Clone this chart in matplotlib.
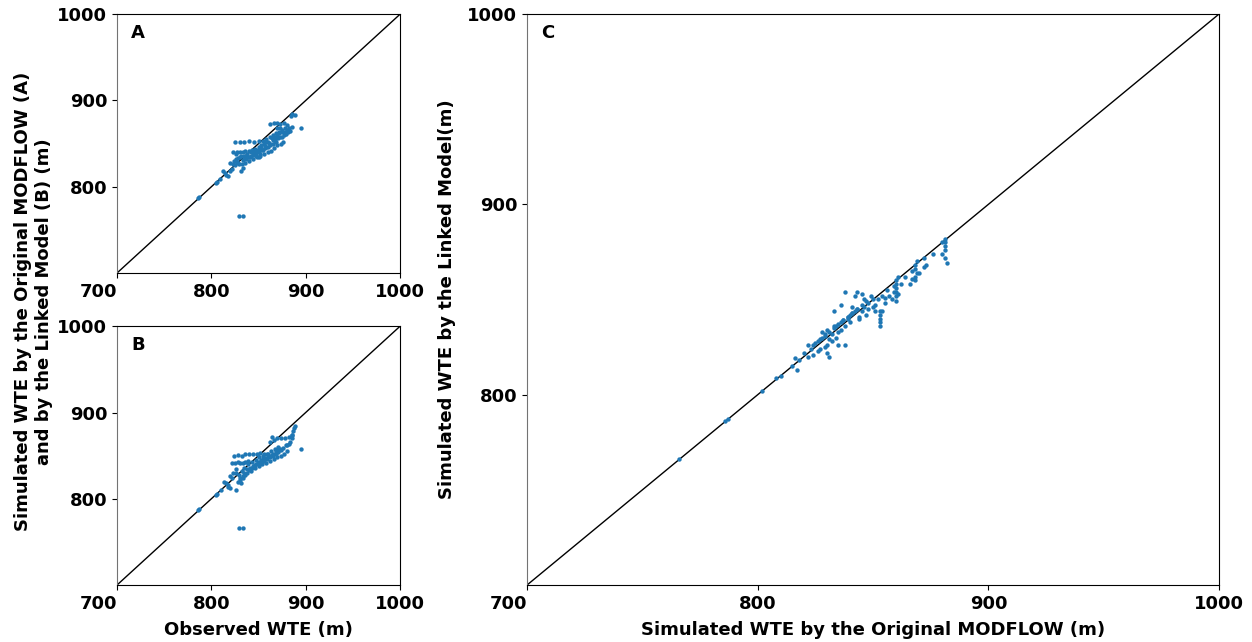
import matplotlib
matplotlib.use("Agg")
import matplotlib.pyplot as plt

# Panel A: observed vs original MODFLOW
obs_a = [786, 787, 829, 834, 805, 806, 809, 812, 814, 816, 818, 820, 822,
         820, 823, 824, 826, 825, 828, 826, 823, 827, 830, 833, 836, 840, 843,
         825, 830, 835, 840, 845, 850, 855, 858,
         830, 833, 836, 838, 840, 842, 845, 848, 850, 852, 855, 857, 860, 862, 865, 868,
         835, 838, 842, 846, 850, 853, 856, 860, 864, 866, 870, 872, 875, 878, 880,
         848, 852, 856, 860, 863, 866, 870, 874, 876,
         858, 862, 865, 868, 872, 875, 870, 873, 878, 882, 885,
         862, 866, 870, 873, 877, 880,
         884, 886, 889, 895,
         832, 834, 831, 836, 840, 844, 847, 850, 828, 831, 827, 829,
         845, 849, 853, 857, 861, 865, 869, 873, 877,
         837, 841, 844, 847, 851, 854, 858, 862, 867, 871, 875, 879, 881, 883]
sim_a = [787, 788, 766, 766, 804, 806, 809, 818, 816, 814, 812, 818, 820,
         828, 826, 830, 832, 825, 828, 838, 840, 840, 840, 840, 841, 842, 843,
         852, 852, 852, 853, 852, 853, 853, 852,
         834, 831, 833, 835, 830, 836, 838, 840, 842, 838, 843, 845, 846, 848, 850, 852,
         836, 838, 840, 844, 846, 848, 850, 852, 856, 858, 860, 862, 863, 864, 866,
         835, 836, 838, 840, 842, 845, 848, 850, 852,
         855, 858, 860, 862, 864, 866, 868, 868, 868, 868, 869,
         873, 874, 874, 873, 874, 872,
         882, 884, 883, 868,
         826, 822, 818, 828, 834, 832, 836, 834, 833, 836, 829, 826,
         841, 843, 845, 847, 851, 854, 856, 858, 860,
         832, 835, 837, 839, 841, 843, 846, 849, 853, 856, 858, 861, 863, 865]

# Panel B: observed vs linked model
obs_b = [786, 787, 829, 834, 805, 806, 810, 813, 816, 818, 820, 822,
         822, 825, 828, 830, 833, 836, 839,
         824, 828, 832, 836, 840, 844, 848, 852, 856, 860,
         826, 829, 832, 835, 838, 841, 844, 847, 850, 853, 856, 859, 862, 865, 868, 871, 874,
         830, 834, 838, 842, 846, 850, 854, 858, 862, 866, 870, 874, 877, 880,
         835, 839, 843, 847, 851, 855, 859, 863, 867, 871,
         862, 866, 870, 874, 878, 882, 885,
         880, 883, 885, 886, 887, 888, 889, 895, 864,
         828, 831, 834, 826, 823, 820, 818, 826, 830,
         845, 849, 853, 857, 861, 865, 869, 873,
         836, 840, 843, 846, 850, 855, 860, 864, 868, 872, 876, 879, 882]
sim_b = [787, 788, 766, 766, 804, 806, 810, 820, 818, 814, 812, 824,
         842, 842, 843, 842, 842, 843, 844,
         850, 851, 850, 852, 852, 852, 852, 853, 852, 852,
         830, 828, 832, 830, 834, 836, 838, 840, 842, 842, 844, 846, 848, 850, 852, 854, 856,
         824, 826, 830, 832, 836, 838, 840, 842, 844, 846, 848, 850, 852, 855,
         836, 840, 843, 845, 848, 850, 852, 855, 858, 860,
         866, 868, 870, 870, 870, 872, 874,
         862, 866, 870, 874, 878, 882, 884, 858, 872,
         820, 818, 824, 834, 830, 826, 816, 810, 822,
         838, 842, 845, 847, 849, 852, 856, 858,
         828, 833, 836, 839, 843, 846, 849, 851, 854, 857, 859, 862, 864]

# Panel C: original MODFLOW vs linked model
orig_c = [766, 786, 787, 802, 808, 810, 815, 817, 816, 818, 820, 822, 822, 824,
          826, 827, 828, 829, 830, 830, 831, 830, 832, 833, 834, 835, 836, 836,
          838, 838, 839, 840, 840, 841, 842, 843, 844, 845, 846, 846, 847, 848,
          849, 850, 850, 851, 852, 853, 853, 854, 854, 855, 856, 857, 858, 859,
          860, 860, 860, 861, 862, 864, 866, 867, 868, 868, 869, 870, 872, 873,
          876, 880, 881, 881, 881, 882, 880,
          838, 842, 845, 836, 833, 828, 832, 834, 837, 839, 841, 843, 847, 851,
          853, 855, 859, 861, 867, 869, 872, 824, 826, 829, 831, 835, 844, 848,
          823, 825, 827, 829, 831, 833, 835, 837, 839, 841, 843, 845, 853, 853,
          860, 860, 860, 868, 868, 881, 881]
link_c = [766, 786, 787, 802, 809, 810, 815, 813, 819, 818, 822, 820, 826, 826,
          828, 824, 830, 832, 822, 826, 820, 834, 832, 836, 830, 826, 834, 838,
          836, 826, 840, 842, 838, 846, 844, 854, 840, 844, 850, 846, 842, 848,
          852, 846, 850, 844, 850, 836, 840, 844, 852, 848, 855, 852, 850, 854,
          849, 856, 860, 862, 858, 862, 858, 865, 860, 866, 870, 864, 872, 868,
          874, 880, 882, 876, 872, 869, 874,
          854, 852, 853, 847, 844, 833, 828, 836, 839, 841, 843, 845, 849, 847,
          842, 851, 857, 853, 861, 864, 867, 821, 823, 825, 829, 833, 841, 845,
          824, 827, 829, 831, 833, 835, 837, 839, 841, 843, 845, 847, 838, 844,
          852, 854, 858, 862, 868, 878, 880]

ticks = [700, 800, 900, 1000]
dot_color = "#1f77b4"

plt.rcParams["font.family"] = "DejaVu Sans"
plt.rcParams["font.weight"] = "bold"
plt.rcParams["font.size"] = 13

fig = plt.figure(figsize=(12.52, 6.42), dpi=100)
ax_a = fig.add_axes([0.0935, 0.5748, 0.226, 0.403])
ax_b = fig.add_axes([0.0935, 0.0888, 0.226, 0.403])
ax_c = fig.add_axes([0.421, 0.0888, 0.5527, 0.8894])


def style(ax, xs, ys, letter):
    ax.scatter(xs, ys, s=10, color=dot_color, linewidths=0, zorder=3)
    ax.plot(ticks, ticks, color="black", lw=1.0, zorder=2)
    ax.set_xlim(700, 1000)
    ax.set_ylim(700, 1000)
    ax.set_xticks(ticks)
    ax.set_xticklabels([str(t) for t in ticks], fontweight="bold")
    ax.get_xticklabels()[0].set_ha("right")
    ax.set_yticks(ticks[1:])
    ax.set_yticklabels([str(t) for t in ticks[1:]], fontweight="bold")
    for sp in ax.spines.values():
        sp.set_linewidth(0.8)
    ax.spines["left"].set_color("0.45")
    # letter sits at a fixed offset from the top-left corner
    ax.annotate(letter, xy=(0, 1), xycoords="axes fraction",
                xytext=(10, -7), textcoords="offset points",
                ha="left", va="top", fontsize=13, fontweight="bold")


style(ax_a, obs_a, sim_a, "A")
style(ax_b, obs_b, sim_b, "B")
style(ax_c, orig_c, link_c, "C")

ax_b.set_xlabel("Observed WTE (m)", fontweight="bold", labelpad=6)
ax_c.set_xlabel("Simulated WTE by the Original MODFLOW (m)", fontweight="bold", labelpad=6)
ax_c.set_ylabel("Simulated WTE by the Linked Model(m)", fontweight="bold", labelpad=8)
fig.text(0.027, 0.53,
         "Simulated WTE by the Original MODFLOW (A)\nand by the Linked Model (B) (m)",
         rotation=90, ha="center", va="center", multialignment="center",
         fontsize=13, fontweight="bold")

fig.savefig("out.png", dpi=100)
